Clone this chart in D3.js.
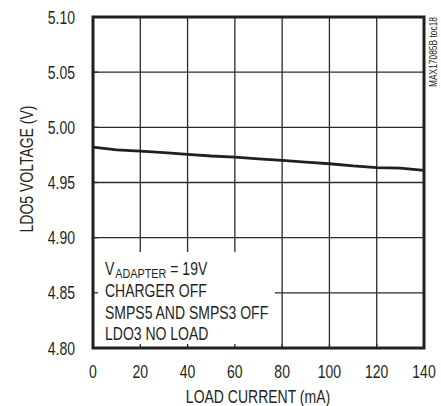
<!DOCTYPE html>
<html><head><meta charset="utf-8">
<script src="https://cdn.jsdelivr.net/npm/d3@7"></script>
<style>
body{margin:0;background:#fff;}
text{font-family:"Liberation Sans","Arial",sans-serif;fill:#231f20;}
</style></head>
<body><svg id="c" width="441" height="406"></svg>
<script>
const loadCurrent = [0,10,20,30,40,50,60,70,80,90,100,110,120,130,140];
const ldo5Voltage = [4.982,4.9795,4.9785,4.977,4.9755,4.974,4.973,4.9715,4.970,4.9685,4.967,4.965,4.9635,4.963,4.961];
const xTicks = [0,20,40,60,80,100,120,140];
const yTicks = [4.80,4.85,4.90,4.95,5.00,5.05,5.10];
const noteLines = ["CHARGER OFF","SMPS5 AND SMPS3 OFF","LDO3 NO LOAD"];

const svg = d3.select("#c");
const L=93, R=424, T=17, B=348;
const x = d3.scaleLinear().domain([0,140]).range([L,R]);
const y = d3.scaleLinear().domain([4.80,5.10]).range([B,T]);
const squeeze = 0.8;
// narrow text: horizontally compressed via transform
function addText(parent, tx, ty, str, size, anchor, rot){
  const t = parent.append("text")
    .attr("transform", `translate(${tx},${ty})` + (rot ? ` rotate(${rot})` : "") + ` scale(${squeeze},1)`)
    .attr("text-anchor", anchor || "start").attr("font-size", size).text(str);
  return t;
}

const g = svg.append("g");
// grid
g.selectAll(".vx").data(xTicks.slice(1,-1)).enter().append("line")
 .attr("x1",d=>x(d)).attr("x2",d=>x(d)).attr("y1",T).attr("y2",B)
 .attr("stroke","#2a2a2a").attr("stroke-width",1.3);
g.selectAll(".hy").data(yTicks.slice(1,-1)).enter().append("line")
 .attr("x1",L).attr("x2",R).attr("y1",d=>y(d)).attr("y2",d=>y(d))
 .attr("stroke","#2a2a2a").attr("stroke-width",1.3);
// blank area for note
g.append("rect").attr("x",L+1).attr("y",252).attr("width",275-L-1).attr("height",B-252-1).attr("fill","#fff");
// inward ticks
g.selectAll(".tx").data(xTicks.slice(1,-1)).enter().append("line")
 .attr("x1",d=>x(d)).attr("x2",d=>x(d)).attr("y1",B-4).attr("y2",B)
 .attr("stroke","#2a2a2a").attr("stroke-width",1.3);
g.selectAll(".ty").data(yTicks.slice(1,-1)).enter().append("line")
 .attr("x1",L).attr("x2",L+5).attr("y1",d=>y(d)).attr("y2",d=>y(d))
 .attr("stroke","#2a2a2a").attr("stroke-width",1.3);
// frame
g.append("rect").attr("x",L).attr("y",T).attr("width",R-L).attr("height",B-T)
 .attr("fill","none").attr("stroke","#231f20").attr("stroke-width",3);
// curve
const line = d3.line().x((d,i)=>x(loadCurrent[i])).y(d=>y(d));
g.append("path").datum(ldo5Voltage).attr("d",line).attr("fill","none")
 .attr("stroke","#231f20").attr("stroke-width",2.8);

// tick labels
xTicks.forEach(d => addText(g, x(d), 378, String(d), 17.5, "middle"));
yTicks.forEach(d => addText(g, 75, y(d)+6.5, d.toFixed(2), 17.5, "end"));
// axis titles
addText(g, 258, 403, "LOAD CURRENT (mA)", 17.5, "middle");
addText(g, 33, 169, "LDO5 VOLTAGE (V)", 17.5, "middle", -90);
addText(g, 437, 17, "MAX17085B toc18", 10.5, "end", -90);

// note, first line built from three pieces
let nx = 105;
const p1 = addText(g, nx, 275, "V", 17.5);
nx += p1.node().getComputedTextLength()*squeeze + 1;
const p2 = addText(g, nx, 278, "ADAPTER", 13.5);
nx += p2.node().getComputedTextLength()*squeeze + 4;
addText(g, nx, 275, "= 19V", 17.5);
noteLines.forEach((d,i) => addText(g, 105, 297+i*21.5, d, 17.5));
</script></body></html>
